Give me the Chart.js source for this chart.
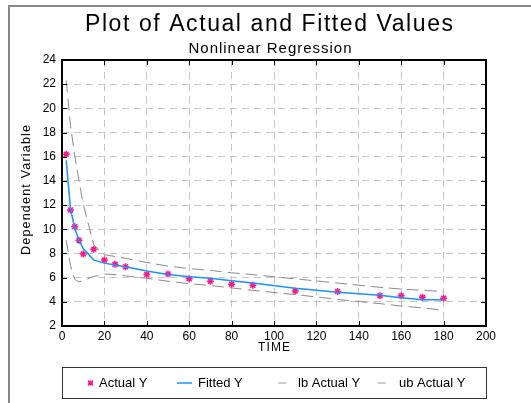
<!DOCTYPE html>
<html>
<head>
<meta charset="utf-8">
<script src="https://cdn.jsdelivr.net/npm/chart.js@4.4.0/dist/chart.umd.min.js"></script>
<style>
html,body{margin:0;padding:0;background:#fff;}
#wrap{position:relative;width:531px;height:403px;}
</style>
</head>
<body>
<div id="wrap"><canvas id="c" width="531" height="403"></canvas></div>
<script>
// ---- data ----
const titleText = "Plot of Actual and Fitted Values";
const subtitleText = "Nonlinear Regression";
const xTitle = "TIME";
const yTitle = "Dependent Variable";
const seriesNames = ["Actual Y", "Fitted Y", "lb Actual Y", "ub Actual Y"];

const time     = [2, 4, 6, 8, 10, 15, 20, 25, 30, 40, 50, 60, 70, 80, 90, 110, 130, 150, 160, 170, 180];
const actualY  = [16.2, 11.6, 10.2, 9.1, 7.95, 8.35, 7.45, 7.1, 6.9, 6.25, 6.3, 5.9, 5.7, 5.45, 5.37, 4.9, 4.85, 4.5, 4.5, 4.37, 4.29];
const fittedY  = [15.7, 11.7, 10.1, 9.1, 8.4, 7.45, 7.2, 7.05, 6.9, 6.55, 6.25, 6.07, 5.95, 5.75, 5.55, 5.12, 4.8, 4.55, 4.33, 4.18, 4.17];
const lbY      = [9.1, 7.0, 5.85, 5.65, 5.75, 6.1, 6.3, 6.25, 6.15, 5.95, 5.7, 5.5, 5.35, 5.15, 4.95, 4.6, 4.2, 3.85, 3.65, 3.5, 3.3];
const ubY      = [22.3, 18.6, 16.1, 14.0, 12.1, 8.7, 7.9, 7.75, 7.6, 7.25, 6.95, 6.75, 6.6, 6.4, 6.25, 5.9, 5.55, 5.2, 5.05, 4.95, 4.85];

const xTicks = [0, 20, 40, 60, 80, 100, 120, 140, 160, 180, 200];
const yTicks = [2, 4, 6, 8, 10, 12, 14, 16, 18, 20, 22, 24];

const pts = arr => time.map((t, i) => ({x: t, y: arr[i]}));

const COL_ACT = '#ff1a8c';
const COL_FIT = '#1e90ff';
const COL_BND = '#8a8a8a';
const FONT = '"Liberation Sans", Arial, sans-serif';

function spacedText(ctx, text, cx, cy, targetW) {
  ctx.letterSpacing = '0px';
  const w = ctx.measureText(text).width;
  const n = text.length;
  const sp = targetW ? Math.max(0, (targetW - w) / (n - 1)) : 0;
  ctx.letterSpacing = sp + 'px';
  const total = w + sp * (n - 1);
  ctx.textAlign = 'left';
  ctx.fillText(text, cx - total / 2, cy);
  ctx.letterSpacing = '0px';
}

const deco = {
  id: 'deco',
  beforeDraw(chart) {
    const ctx = chart.ctx;
    ctx.save();
    ctx.fillStyle = '#fff';
    ctx.fillRect(0, 0, chart.width, chart.height);
    ctx.strokeStyle = '#888';
    ctx.lineWidth = 2;
    ctx.beginPath();
    ctx.moveTo(9, 403);
    ctx.lineTo(9, 6);
    ctx.lineTo(531, 6);
    ctx.stroke();
    ctx.restore();
  },
  afterDraw(chart) {
    const ctx = chart.ctx;
    const a = chart.chartArea;
    const xs = chart.scales.x, ys = chart.scales.y;
    ctx.save();
    // inner ticks
    ctx.strokeStyle = '#000';
    ctx.lineWidth = 1;
    ctx.beginPath();
    xTicks.forEach(v => {
      const px = Math.round(xs.getPixelForValue(v)) + 0.5;
      ctx.moveTo(px, a.bottom); ctx.lineTo(px, a.bottom - 5);
      ctx.moveTo(px, a.top); ctx.lineTo(px, a.top + 5);
    });
    yTicks.forEach(v => {
      const py = Math.round(ys.getPixelForValue(v)) + 0.5;
      ctx.moveTo(a.left, py); ctx.lineTo(a.left + 5, py);
      ctx.moveTo(a.right, py); ctx.lineTo(a.right - 5, py);
    });
    ctx.stroke();
    // frame
    ctx.lineWidth = 2;
    ctx.strokeRect(a.left, a.top, a.right - a.left, a.bottom - a.top);

    // titles
    ctx.fillStyle = '#000';
    ctx.textBaseline = 'alphabetic';
    ctx.font = '23px ' + FONT;
    spacedText(ctx, titleText, 269, 31, 368);
    ctx.font = '15px ' + FONT;
    spacedText(ctx, subtitleText, 270, 53, 163);

    // axis titles
    ctx.textBaseline = 'middle';
    ctx.font = '12px ' + FONT;
    spacedText(ctx, xTitle, (a.left + a.right) / 2, 348, 32);
    ctx.save();
    ctx.translate(27, 190);
    ctx.rotate(-Math.PI / 2);
    ctx.font = '12.5px ' + FONT;
    spacedText(ctx, yTitle, 0, 0, 130);
    ctx.restore();

    // legend
    const L = {x: a.left, y: 367, w: a.right - a.left, h: 31};
    ctx.lineWidth = 1;
    ctx.strokeStyle = '#333';
    ctx.strokeRect(L.x + 0.5, L.y + 0.5, L.w, L.h);
    const cy = L.y + L.h / 2 + 0.5;
    ctx.font = '13px ' + FONT;
    ctx.textBaseline = 'middle';
    ctx.textAlign = 'left';
    // Actual Y marker
    const mx = 90.5, r = 2.5;
    ctx.strokeStyle = COL_ACT;
    ctx.lineWidth = 1.4;
    ctx.beginPath();
    ctx.moveTo(mx - r, cy - r); ctx.lineTo(mx + r, cy + r);
    ctx.moveTo(mx + r, cy - r); ctx.lineTo(mx - r, cy + r);
    ctx.moveTo(mx - r, cy); ctx.lineTo(mx + r, cy);
    ctx.moveTo(mx, cy - r); ctx.lineTo(mx, cy + r);
    ctx.stroke();
    ctx.fillStyle = '#000';
    ctx.fillText(seriesNames[0], 99, cy);
    // Fitted
    ctx.strokeStyle = COL_FIT; ctx.lineWidth = 1.5;
    ctx.beginPath(); ctx.moveTo(177, cy); ctx.lineTo(192, cy); ctx.stroke();
    ctx.fillText(seriesNames[1], 198, cy);
    // lb
    ctx.strokeStyle = '#bbb'; ctx.lineWidth = 1.5;
    ctx.beginPath(); ctx.moveTo(278, cy); ctx.lineTo(286, cy); ctx.stroke();
    ctx.fillText(seriesNames[2], 298, cy);
    // ub
    ctx.beginPath(); ctx.moveTo(378, cy); ctx.lineTo(386, cy); ctx.stroke();
    ctx.fillText(seriesNames[3], 399, cy);
    ctx.restore();
  }
};

const chart = new Chart(document.getElementById('c'), {
  type: 'line',
  data: {
    datasets: [
      { label: seriesNames[2], data: pts(lbY), borderColor: COL_BND, borderWidth: 1, borderDash: [12, 6], pointRadius: 0, fill: false, tension: 0 },
      { label: seriesNames[3], data: pts(ubY), borderColor: COL_BND, borderWidth: 1, borderDash: [12, 6], pointRadius: 0, fill: false, tension: 0 },
      { label: seriesNames[1], data: pts(fittedY), borderColor: COL_FIT, borderWidth: 1.5, pointRadius: 0, fill: false, tension: 0 },
      { label: seriesNames[0], data: pts(actualY), showLine: false, pointStyle: 'star', pointRadius: 3.5, borderColor: COL_ACT, backgroundColor: COL_ACT, pointBorderWidth: 1.5 }
    ]
  },
  options: {
    responsive: false,
    animation: false,
    devicePixelRatio: 1,
    layout: { padding: { left: 0, right: 45, top: 60, bottom: 47 } },
    plugins: { legend: { display: false }, title: { display: false }, tooltip: { enabled: false } },
    scales: {
      x: {
        type: 'linear', min: 0, max: 200,
        afterFit(s) { s.height = 30; },
        afterBuildTicks(s) { s.ticks = xTicks.map(v => ({value: v})); },
        ticks: { autoSkip: false, maxRotation: 0, padding: 3, color: '#000', font: { family: FONT, size: 12 } },
        grid: { color: '#c4c4c4', lineWidth: 1, drawTicks: false },
        border: { display: false, dash: [7, 5] }
      },
      y: {
        type: 'linear', min: 2, max: 24,
        afterFit(s) { s.width = 62; },
        afterBuildTicks(s) { s.ticks = yTicks.map(v => ({value: v})); },
        ticks: { padding: 6, color: '#000', font: { family: FONT, size: 12 } },
        grid: { color: '#c4c4c4', lineWidth: 1, drawTicks: false },
        border: { display: false, dash: [7, 5] }
      }
    }
  },
  plugins: [deco]
});
</script>
</body>
</html>
